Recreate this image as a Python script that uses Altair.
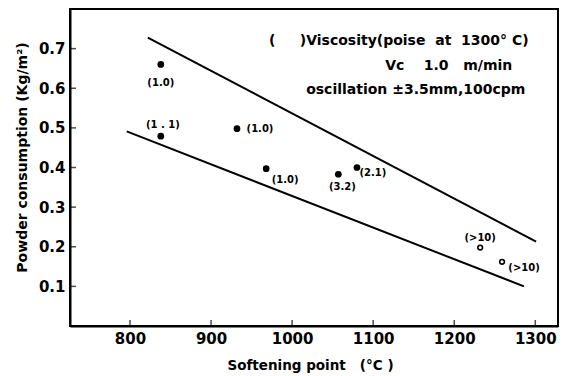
import altair as alt
import pandas as pd

# ---- data ----
filled_x = [838, 838, 932, 968, 1057, 1080]
filled_y = [0.660, 0.479, 0.498, 0.397, 0.383, 0.400]
filled_lbl = ["(1.0)", "(1 . 1)", "(1.0)", "(1.0)", "(3.2)", "(2.1)"]

open_x = [1232, 1259]
open_y = [0.198, 0.162]
open_lbl = ["(>10)", "(>10)"]

upper_x = [822, 1301]
upper_y = [0.728, 0.213]
lower_x = [796, 1286]
lower_y = [0.491, 0.100]

x_ticks = [800, 900, 1000, 1100, 1200, 1300]
y_ticks = [0.1, 0.2, 0.3, 0.4, 0.5, 0.6, 0.7]

NB = "\u00a0"
notes = ["(" + NB * 5 + ")Viscosity(poise" + NB * 2 + "at" + NB * 2 + "1300°" + NB + "C)",
         "Vc" + NB * 4 + "1.0" + NB * 3 + "m/min",
         "oscillation" + NB + "±3.5mm,100cpm"]
notes_x = [971.5, 1114.8, 1017.3]
notes_y = [0.719, 0.656, 0.5955]

FONT = "DejaVu Sans"
W, H = 488, 317

xscale = alt.Scale(domain=[726, 1328], nice=False, zero=False)
yscale = alt.Scale(domain=[0, 0.8], nice=False, zero=False)

xaxis = alt.Axis(values=x_ticks, format="d", tickSize=0, grid=False,
                 title="Softening point" + NB * 3 + "(°C" + NB + ")",
                 titleX=240, titleY=39,
                 titleBaseline="middle", titleAlign="center",
                 labelPadding=5,
                 labelFont=FONT, labelFontWeight="bold", labelFontSize=15, labelColor="black",
                 titleFont=FONT, titleFontWeight="bold", titleFontSize=13.5, titleColor="black",
                 domainColor="black", domainWidth=2)
yaxis = alt.Axis(values=y_ticks, format=".1f", tickSize=0, grid=False,
                 title="Powder consumption (Kg/m²)", titleX=-48, titleY=148,
                 titleBaseline="middle", titleAlign="center", titleAngle=270,
                 labelPadding=5,
                 labelFont=FONT, labelFontWeight="bold", labelFontSize=15, labelColor="black",
                 titleFont=FONT, titleFontWeight="bold", titleFontSize=14, titleColor="black",
                 domainColor="black", domainWidth=2)


def X(f):
    return alt.X(f, type="quantitative", scale=xscale, axis=xaxis)


def Y(f):
    return alt.Y(f, type="quantitative", scale=yscale, axis=yaxis)


lines_df = pd.DataFrame({
    "x": upper_x + lower_x,
    "y": upper_y + lower_y,
    "g": ["upper"] * len(upper_x) + ["lower"] * len(lower_x),
})
filled_df = pd.DataFrame({"x": filled_x, "y": filled_y, "t": filled_lbl})
open_df = pd.DataFrame({"x": open_x, "y": open_y, "t": open_lbl})
notes_df = pd.DataFrame({"x": notes_x, "y": notes_y, "t": notes})

lines = alt.Chart(lines_df).mark_line(color="black", strokeWidth=2).encode(
    x=X("x"), y=Y("y"), detail="g:N")

pts_filled = alt.Chart(filled_df).mark_point(
    shape="circle", filled=True, color="black", size=45, opacity=1).encode(
    x=X("x"), y=Y("y"))

pts_open = alt.Chart(open_df).mark_point(
    shape="circle", filled=False, color="black", size=22, strokeWidth=1.6,
    opacity=1).encode(x=X("x"), y=Y("y"))

# label offsets (pixels) relative to each point
filled_off = [(0, 19), (2, -11), (23, 0), (19, 11), (4, 13), (16, 5)]
open_off = [(0, -10), (22, 6)]

label_layers = []
for i, (dx, dy) in enumerate(filled_off):
    label_layers.append(
        alt.Chart(filled_df.iloc[[i]]).mark_text(
            font=FONT, fontWeight="bold", fontSize=10, color="black",
            dx=dx, dy=dy, align="center", baseline="middle").encode(
            x=X("x"), y=Y("y"), text="t:N"))
for i, (dx, dy) in enumerate(open_off):
    label_layers.append(
        alt.Chart(open_df.iloc[[i]]).mark_text(
            font=FONT, fontWeight="bold", fontSize=10, color="black",
            dx=dx, dy=dy, align="center", baseline="middle").encode(
            x=X("x"), y=Y("y"), text="t:N"))

notes_layer = alt.Chart(notes_df).mark_text(
    font=FONT, fontWeight="bold", fontSize=14, color="black",
    align="left", baseline="middle").encode(
    x=X("x"), y=Y("y"), text="t:N")

xt = alt.Chart(pd.DataFrame({"v": x_ticks})).mark_tick(
    orient="vertical", size=6, thickness=1.5, color="black", yOffset=-3).encode(
    x=X("v"), y=alt.value(H))
yt = alt.Chart(pd.DataFrame({"v": y_ticks})).mark_tick(
    orient="horizontal", size=6, thickness=1.5, color="black", xOffset=3).encode(
    y=Y("v"), x=alt.value(0))

chart = alt.layer(lines, pts_filled, pts_open, notes_layer, xt, yt,
                  *label_layers).properties(
    width=W, height=H,
    background="white",
    autosize=alt.AutoSizeParams(type="none"),
    padding={"left": 62, "top": 1, "right": 4, "bottom": 48},
).configure_view(stroke="black", strokeWidth=2)

chart.save("out.html", embed_options={"renderer": "svg", "actions": False})
